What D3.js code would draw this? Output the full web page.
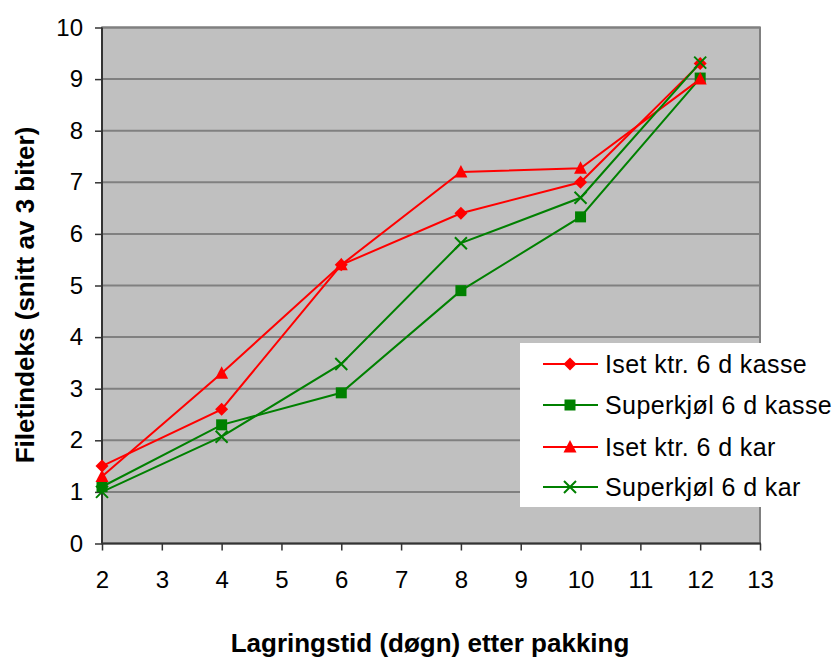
<!DOCTYPE html>
<html lang="no">
<head>
<meta charset="UTF-8" />
<title>Filetindeks</title>
<script src="https://cdn.jsdelivr.net/npm/d3@7/dist/d3.min.js"></script>
<style>
  body { margin: 0; background: #fff; }
  svg { display: block; font-family: Arial, "Liberation Sans", sans-serif; }
</style>
</head>
<body>
<svg width="836" height="657"></svg>
<script>
  // data
  var days = [2, 4, 6, 8, 10, 12];
  var isetKasse = [1.5, 2.6, 5.4, 6.4, 7.0, 9.3];
  var superKasse = [1.1, 2.3, 2.92, 4.9, 6.33, 9.02];
  var isetKar = [1.3, 3.3, 5.4, 7.2, 7.27, 9.0];
  var superKar = [1.0, 2.07, 3.48, 5.82, 6.7, 9.32];
  var seriesNames = ["Iset ktr. 6 d kasse", "Superkjøl 6 d kasse", "Iset ktr. 6 d kar", "Superkjøl 6 d kar"];
  var xTicks = [2, 3, 4, 5, 6, 7, 8, 9, 10, 11, 12, 13];
  var yTicks = [0, 1, 2, 3, 4, 5, 6, 7, 8, 9, 10];

  var series = [
    { name: seriesNames[0], values: isetKasse, color: "#ff0000", marker: "diamond" },
    { name: seriesNames[1], values: superKasse, color: "#008000", marker: "square" },
    { name: seriesNames[2], values: isetKar, color: "#ff0000", marker: "triangle" },
    { name: seriesNames[3], values: superKar, color: "#008000", marker: "cross" }
  ];

  var svg = d3.select("svg");
  var plotL = 102, plotR = 760, plotT = 27.5, plotB = 543.5;

  var x = d3.scaleLinear().domain([2, 13]).range([plotL, plotR]);
  var y = d3.scaleLinear().domain([0, 10]).range([plotB, plotT]);

  // plot area
  svg.append("rect")
    .attr("x", plotL).attr("y", plotT)
    .attr("width", plotR - plotL).attr("height", plotB - plotT)
    .attr("fill", "#c0c0c0")
    .attr("stroke", "#808080")
    .attr("stroke-width", 2);

  // gridlines
  svg.append("g")
    .selectAll("line")
    .data(yTicks.filter(function (d) { return d > 0; }))
    .enter()
    .append("line")
    .attr("x1", plotL).attr("x2", plotR)
    .attr("y1", function (d) { return y(d); })
    .attr("y2", function (d) { return y(d); })
    .attr("stroke", "#808080")
    .attr("stroke-width", 2);

  // axes
  var xAxis = d3.axisBottom(x).tickValues(xTicks).tickSize(7).tickPadding(20);
  var yAxis = d3.axisLeft(y).tickValues(yTicks).tickSize(7).tickPadding(12);

  svg.append("g")
    .attr("transform", "translate(0," + plotB + ")")
    .call(xAxis);
  svg.append("g")
    .attr("transform", "translate(" + plotL + ",0)")
    .call(yAxis);

  svg.selectAll(".domain").remove();
  svg.append("line")
    .attr("x1", plotL).attr("x2", plotL).attr("y1", plotT).attr("y2", plotB)
    .attr("stroke", "#333").attr("stroke-width", 2);
  svg.append("line")
    .attr("x1", plotL).attr("x2", plotR + 1).attr("y1", plotB).attr("y2", plotB)
    .attr("stroke", "#333").attr("stroke-width", 2);

  svg.selectAll(".tick line").attr("stroke", "#333").attr("stroke-width", 1.5);
  svg.selectAll(".tick text")
    .attr("font-family", "Arial, 'Liberation Sans', sans-serif")
    .attr("font-size", "24px")
    .attr("fill", "#000");

  // markers
  function drawMarker(g, type, color) {
    if (type === "diamond") {
      g.append("path").attr("d", "M0,-6.5L6.5,0L0,6.5L-6.5,0Z").attr("fill", color);
    } else if (type === "square") {
      g.append("rect").attr("x", -5.5).attr("y", -5.5).attr("width", 11).attr("height", 11).attr("fill", color);
    } else if (type === "triangle") {
      g.append("path").attr("d", "M0,-7L6.5,5.5L-6.5,5.5Z").attr("fill", color);
    } else {
      g.append("path").attr("d", "M-6,-6L6,6M-6,6L6,-6")
        .attr("stroke", color).attr("stroke-width", 2).attr("fill", "none");
    }
  }

  var line = d3.line()
    .x(function (d, i) { return x(days[i]); })
    .y(function (d) { return y(d); });

  series.forEach(function (s) {
    svg.append("path")
      .attr("d", line(s.values))
      .attr("fill", "none")
      .attr("stroke", s.color)
      .attr("stroke-width", 2);
  });
  series.forEach(function (s) {
    s.values.forEach(function (v, i) {
      var g = svg.append("g")
        .attr("transform", "translate(" + x(days[i]) + "," + y(v) + ")");
      drawMarker(g, s.marker, s.color);
    });
  });

  // legend
  var legend = svg.append("g");
  legend.append("rect")
    .attr("x", 520).attr("y", 343)
    .attr("width", 316).attr("height", 164)
    .attr("fill", "#fff");
  var rowY = [364, 405, 447, 487];
  series.forEach(function (s, i) {
    var g = legend.append("g").attr("transform", "translate(0," + rowY[i] + ")");
    g.append("line")
      .attr("x1", 543).attr("x2", 598)
      .attr("stroke", s.color).attr("stroke-width", 2);
    var m = g.append("g").attr("transform", "translate(570,0)");
    drawMarker(m, s.marker, s.color);
    g.append("text")
      .attr("x", 605).attr("y", 9)
      .attr("font-size", "25px")
      .attr("letter-spacing", "0.4px")
      .attr("fill", "#000")
      .text(s.name);
  });

  // axis titles
  svg.append("text")
    .attr("x", 430).attr("y", 652)
    .attr("text-anchor", "middle")
    .attr("font-weight", "bold")
    .attr("font-size", "26px")
    .text("Lagringstid (døgn) etter pakking");

  svg.append("text")
    .attr("transform", "translate(34,295) rotate(-90)")
    .attr("text-anchor", "middle")
    .attr("font-weight", "bold")
    .attr("font-size", "26px")
    .text("Filetindeks (snitt av 3 biter)");
</script>
</body>
</html>
